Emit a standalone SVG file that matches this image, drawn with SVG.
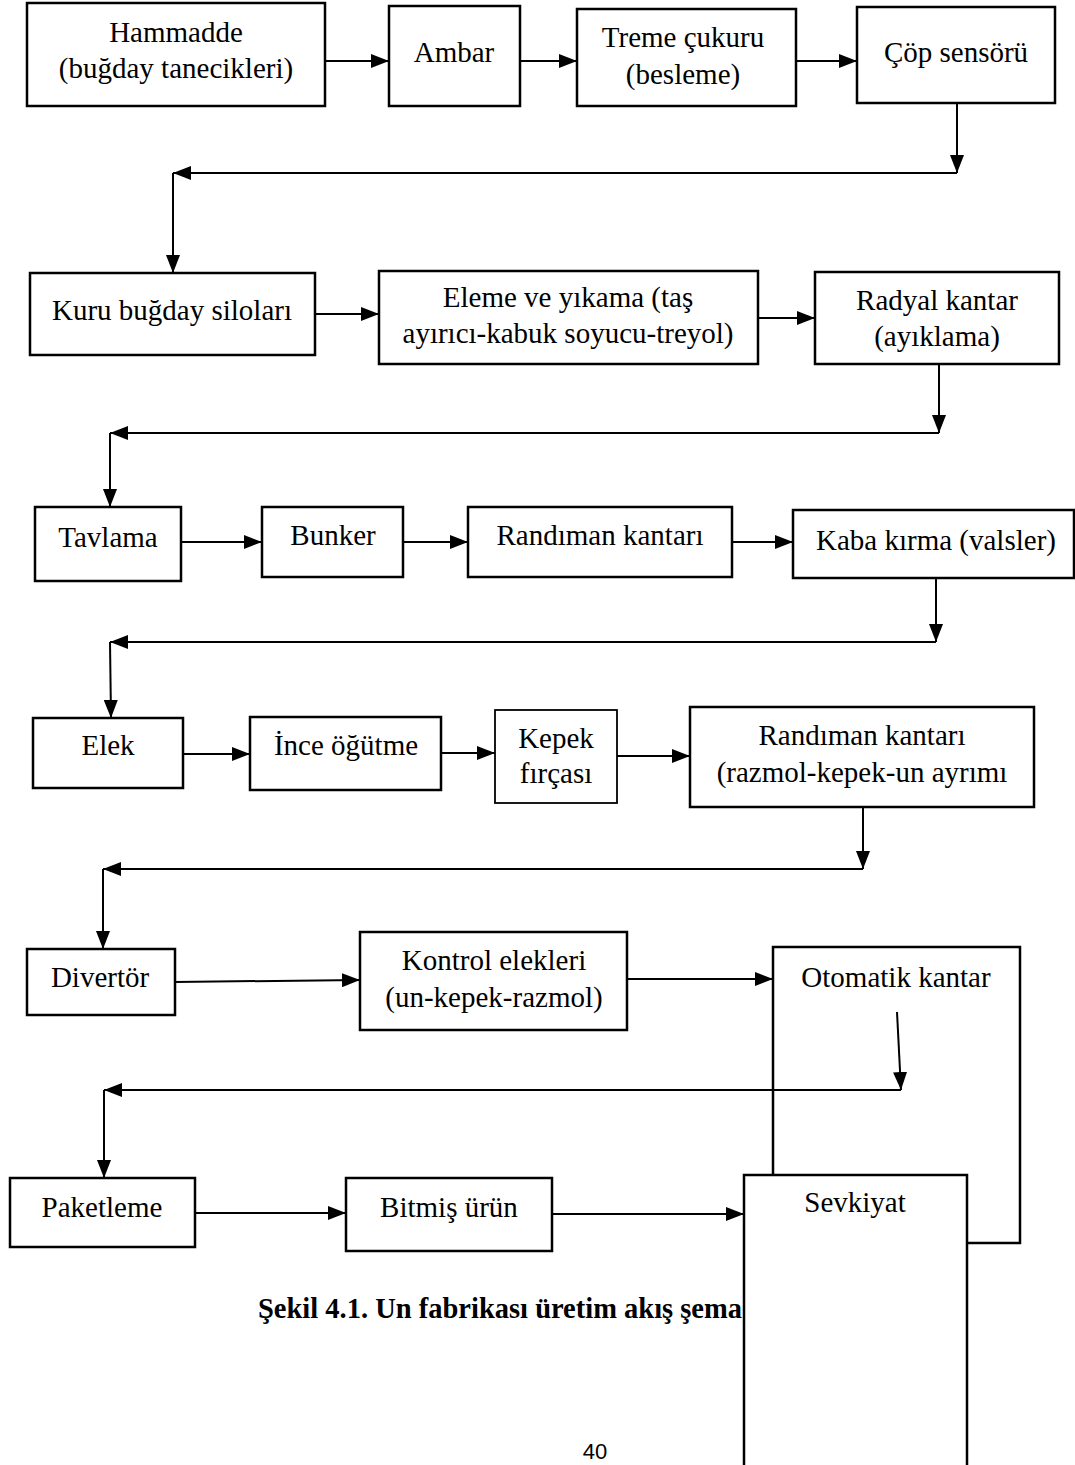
<svg xmlns="http://www.w3.org/2000/svg" width="1075" height="1465" viewBox="0 0 1075 1465">
<style>
.box{fill:#fff;stroke:#000;stroke-width:2.5}
.t{font-family:"Liberation Serif","Times New Roman",serif;font-size:29px;fill:#000;text-anchor:middle}
.c{fill:none;stroke:#000;stroke-width:2}
.cap{font-family:"Liberation Serif","Times New Roman",serif;font-size:28.5px;font-weight:bold;fill:#000}
.pg{font-family:"Liberation Sans",Arial,sans-serif;font-size:22px;fill:#000;text-anchor:middle}
</style>
<defs>
<marker id="ah" viewBox="0 0 18 14" refX="18" refY="7" markerWidth="18" markerHeight="14" orient="auto" markerUnits="userSpaceOnUse"><path d="M0,0 L18,7 L0,14 z" fill="#000"/></marker>
</defs>
<rect width="1075" height="1465" fill="#fff"/>

<g id="connectors">
<path class="c" d="M325,61 H389" marker-end="url(#ah)"/>
<path class="c" d="M520,61 H577" marker-end="url(#ah)"/>
<path class="c" d="M796,61 H857" marker-end="url(#ah)"/>
<path class="c" d="M957,103 V173" marker-end="url(#ah)"/>
<path class="c" d="M957,173 H173" marker-end="url(#ah)"/>
<path class="c" d="M173,173 V273" marker-end="url(#ah)"/>
<path class="c" d="M315,314 H379" marker-end="url(#ah)"/>
<path class="c" d="M758,318 H815" marker-end="url(#ah)"/>
<path class="c" d="M939,364 V433" marker-end="url(#ah)"/>
<path class="c" d="M939,433 H110" marker-end="url(#ah)"/>
<path class="c" d="M110,433 V507" marker-end="url(#ah)"/>
<path class="c" d="M181,542 H262" marker-end="url(#ah)"/>
<path class="c" d="M403,542 H468" marker-end="url(#ah)"/>
<path class="c" d="M732,542 H793" marker-end="url(#ah)"/>
<path class="c" d="M936,578 V642" marker-end="url(#ah)"/>
<path class="c" d="M936,642 H110" marker-end="url(#ah)"/>
<path class="c" d="M110,642 L111,718" marker-end="url(#ah)"/>
<path class="c" d="M183,754 H250" marker-end="url(#ah)"/>
<path class="c" d="M441,753 H495" marker-end="url(#ah)"/>
<path class="c" d="M617,756 H690" marker-end="url(#ah)"/>
<path class="c" d="M863,807 V869" marker-end="url(#ah)"/>
<path class="c" d="M863,869 H103" marker-end="url(#ah)"/>
<path class="c" d="M103,869 V949" marker-end="url(#ah)"/>
<path class="c" d="M175,982 L360,980" marker-end="url(#ah)"/>
<path class="c" d="M627,979 H773" marker-end="url(#ah)"/>
<path class="c" d="M897,1012 L901,1090" marker-end="url(#ah)"/>
<path class="c" d="M901,1090 H104" marker-end="url(#ah)"/>
<path class="c" d="M104,1090 V1178" marker-end="url(#ah)"/>
<path class="c" d="M195,1213 H346" marker-end="url(#ah)"/>
<path class="c" d="M552,1214 H744" marker-end="url(#ah)"/>
</g>

<g id="n1"><rect class="box" x="27" y="3" width="298" height="103"/><text class="t" x="176" y="42">Hammadde</text><text class="t" x="176" y="78">(buğday tanecikleri)</text></g>
<g id="n2"><rect class="box" x="389" y="6" width="131" height="100"/><text class="t" x="454" y="62">Ambar</text></g>
<g id="n3"><rect class="box" x="577" y="9" width="219" height="97"/><text class="t" x="683" y="47">Treme çukuru</text><text class="t" x="683" y="84">(besleme)</text></g>
<g id="n4"><rect class="box" x="857" y="7" width="198" height="96"/><text class="t" x="956" y="62">Çöp sensörü</text></g>
<g id="n5"><rect class="box" x="30" y="273" width="285" height="82"/><text class="t" x="172" y="320">Kuru buğday siloları</text></g>
<g id="n6"><rect class="box" x="379" y="271" width="379" height="93"/><text class="t" x="568" y="307">Eleme ve yıkama (taş</text><text class="t" x="568" y="343">ayırıcı-kabuk soyucu-treyol)</text></g>
<g id="n7"><rect class="box" x="815" y="272" width="244" height="92"/><text class="t" x="937" y="310">Radyal kantar</text><text class="t" x="937" y="346">(ayıklama)</text></g>
<g id="n8"><rect class="box" x="35" y="507" width="146" height="74"/><text class="t" x="108" y="547">Tavlama</text></g>
<g id="n9"><rect class="box" x="262" y="507" width="141" height="70"/><text class="t" x="333" y="545">Bunker</text></g>
<g id="n10"><rect class="box" x="468" y="507" width="264" height="70"/><text class="t" x="600" y="545">Randıman kantarı</text></g>
<g id="n11"><rect class="box" x="793" y="510" width="281" height="68"/><text class="t" x="936" y="550">Kaba kırma (valsler)</text></g>
<g id="n12"><rect class="box" x="33" y="718" width="150" height="70"/><text class="t" x="108" y="755">Elek</text></g>
<g id="n13"><rect class="box" x="250" y="717" width="191" height="73"/><text class="t" x="346" y="755">İnce öğütme</text></g>
<g id="n14"><rect class="box" x="495" y="710" width="122" height="93" style="stroke-width:1.8"/><text class="t" x="556" y="748">Kepek</text><text class="t" x="556" y="783">fırçası</text></g>
<g id="n15"><rect class="box" x="690" y="707" width="344" height="100"/><text class="t" x="862" y="745">Randıman kantarı</text><text class="t" x="862" y="782">(razmol-kepek-un ayrımı</text></g>
<g id="n16"><rect class="box" x="27" y="949" width="148" height="66"/><text class="t" x="100" y="987">Divertör</text></g>
<g id="n17"><rect class="box" x="360" y="932" width="267" height="98"/><text class="t" x="494" y="970">Kontrol elekleri</text><text class="t" x="494" y="1007">(un-kepek-razmol)</text></g>
<g id="n18"><rect class="box" x="773" y="947" width="247" height="296" style="fill:none"/><text class="t" x="896" y="987">Otomatik kantar</text></g>
<g id="n19"><rect class="box" x="10" y="1178" width="185" height="69"/><text class="t" x="102" y="1217">Paketleme</text></g>
<g id="n20"><rect class="box" x="346" y="1178" width="206" height="73"/><text class="t" x="449" y="1217">Bitmiş ürün</text></g>
<text class="cap" x="258" y="1318">Şekil 4.1. Un fabrikası üretim akış şema</text>
<g id="n21"><rect class="box" x="744" y="1175" width="223" height="300"/><text class="t" x="855" y="1212">Sevkiyat</text></g>
<text class="pg" x="595" y="1459">40</text>
</svg>
